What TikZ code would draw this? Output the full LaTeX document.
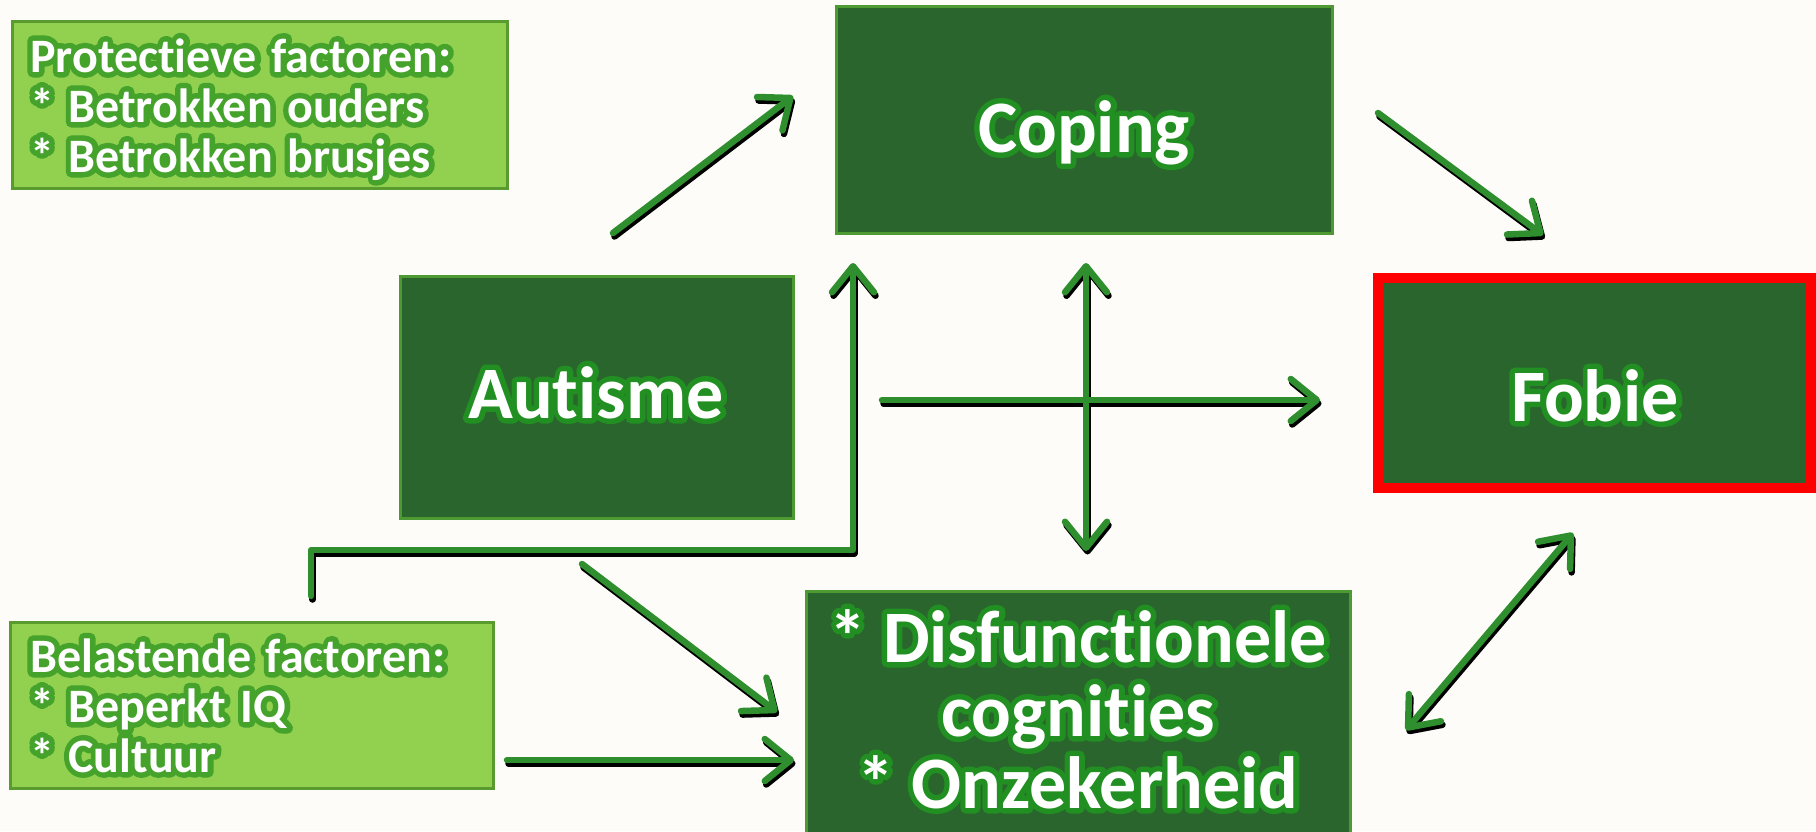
\documentclass[tikz,border=0pt]{standalone}
\usepackage{fontspec}
\setmainfont{Carlito}[Ligatures={NoCommon,NoContextual}]
\usetikzlibrary{arrows.meta,calc}
\definecolor{bgc}{HTML}{FDFCF8}
\definecolor{darkg}{HTML}{2B652E}
\definecolor{darkb}{HTML}{4E9A32}
\definecolor{lightg}{HTML}{92D050}
\definecolor{lightb}{HTML}{5A9B30}
\definecolor{arrg}{HTML}{2F8F2F}
\definecolor{redb}{HTML}{FF0000}
\newcommand\bigf{\fontsize{74}{76}\selectfont\bfseries}
\newcommand\smallf{\fontsize{48}{50}\selectfont\bfseries\spaceskip=0.3em plus 0.1em}
% glow: the same text stroked wide in green behind, then filled white
\newcommand\glowd{0.13 0.56 0.13}
\newcommand\glowl{0.27 0.64 0.17}
\newcommand\gtext[6]{%
  \node[anchor=#2,font=#4,inner sep=0pt] at (#3)
    {\special{pdf:code q 1 Tr 11 w 1 j 1 J #5 RG}#6\special{pdf:code Q}};
  \node[anchor=#2,font=#4,text=white,inner sep=0pt] (#1) at (#3) {#6};
}
\tikzset{
  darkbox/.style={draw=darkb, fill=darkg, line width=3pt, inner sep=0pt},
  lightbox/.style={draw=lightb, fill=lightg, line width=3pt, inner sep=0pt},
  tipb/.tip={Straight Barb[round,length=26pt,width=42pt]},
  shd/.style={draw=black, line width=6.5pt, line cap=round, line join=round,
    transform canvas={xshift=1.5pt,yshift=-3.5pt}},
  arr/.style={draw=arrg, line width=6.5pt, line cap=round, line join=round, -tipb},
  darr/.style={draw=arrg, line width=6.5pt, line cap=round, line join=round, tipb-tipb},
}
\begin{document}
\begin{tikzpicture}[x=1pt,y=-1pt]
\useasboundingbox (0,0) rectangle (1816,831);
\fill[bgc] (0,0) rectangle (1816,831);
% boxes
\path[lightbox] (12,21) rectangle (507,188) node[pos=.5] (prot) {};
\path[lightbox] (10,622) rectangle (493,788) node[pos=.5] (bel) {};
\path[darkbox] (836,6) rectangle (1332,233) node[pos=.5] (cop) {};
\path[darkbox] (400,276) rectangle (793,518) node[pos=.5] (aut) {};
\path[darkbox] (806,591) rectangle (1350,840) node[pos=.5] (dis) {};
\path[fill=darkg, draw=redb, line width=10pt] (1378,278) rectangle (1811,488) node[pos=.5] (fob) {};
% texts
\gtext{tp1}{base west}{30,72}{\smallf}{\glowl}{Protectieve factoren:}
\gtext{tp2}{base west}{30,122}{\smallf}{\glowl}{* Betrokken ouders}
\gtext{tp3}{base west}{30,172}{\smallf}{\glowl}{* Betrokken brusjes}
\gtext{tb1}{base west}{30,672}{\smallf}{\glowl}{Belastende factoren:}
\gtext{tb2}{base west}{30,722}{\smallf}{\glowl}{* Beperkt IQ}
\gtext{tb3}{base west}{30,772}{\smallf}{\glowl}{* Cultuur}
\gtext{tc}{base}{1084,152}{\bigf}{\glowd}{Coping}
\gtext{ta}{base}{596,418}{\bigf}{\glowd}{Autisme}
\gtext{tf}{base}{1595,421}{\bigf}{\glowd}{Fobie}
\gtext{td1}{base}{1078,662}{\bigf}{\glowd}{* Disfunctionele}
\gtext{td2}{base}{1078,736}{\bigf}{\glowd}{cognities}
\gtext{td3}{base}{1078,808}{\bigf}{\glowd}{* Onzekerheid}
% connector end points
\coordinate (a1s) at (613,233);  \coordinate (a1e) at (793,96);
\coordinate (a2s) at (1378,113); \coordinate (a2e) at (1543,235);
\coordinate (a3s) at (882,400);  \coordinate (a3e) at (1320,400);
\coordinate (a4s) at (1086,263); \coordinate (a4e) at (1086,551);
\coordinate (e0) at (311,596);   \coordinate (e1) at (311,550);
\coordinate (e2) at (853,550);   \coordinate (e3) at (853,263);
\coordinate (a6s) at (582,564);  \coordinate (a6e) at (777,712);
\coordinate (a7s) at (507,760);  \coordinate (a7e) at (794,760);
\coordinate (a8s) at (1406,730); \coordinate (a8e) at (1573,533);
% shadows of connectors
\draw[shd,-tipb] (a1s) -- (a1e);
\draw[shd,-tipb] (a2s) -- (a2e);
\draw[shd,-tipb] (a3s) -- (a3e);
\draw[shd,tipb-tipb] (a4s) -- (a4e);
\draw[shd,-tipb] (e0) -- (e1) -- (e2) -- (e3);
\draw[shd,-tipb] (a6s) -- (a6e);
\draw[shd,-tipb] (a7s) -- (a7e);
\draw[shd,tipb-tipb] (a8s) -- (a8e);
% connectors
\draw[arr] (a1s) -- (a1e);
\draw[arr] (a2s) -- (a2e);
\draw[arr] (a3s) -- (a3e);
\draw[darr] (a4s) -- (a4e);
\draw[arr] (e0) -- (e1) -- (e2) -- (e3);
\draw[arr] (a6s) -- (a6e);
\draw[arr] (a7s) -- (a7e);
\draw[darr] (a8s) -- (a8e);
\end{tikzpicture}
\end{document}
